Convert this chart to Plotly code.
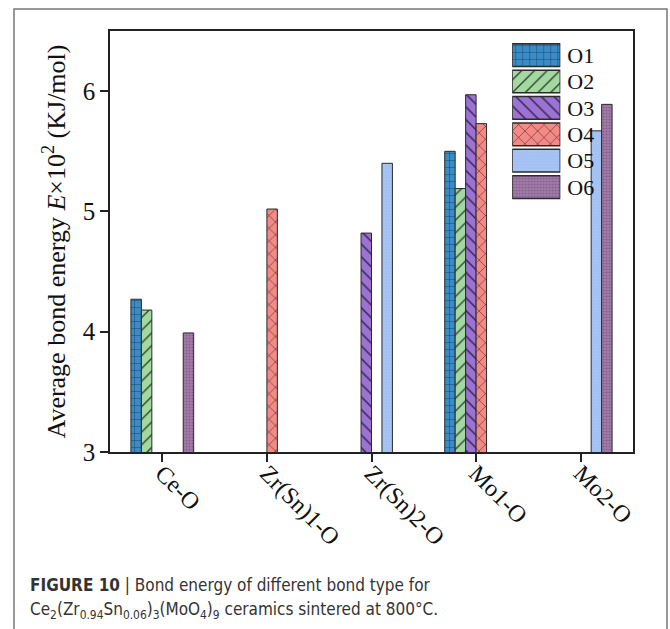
import plotly.graph_objects as go

categories = ["Ce-O", "Zr(Sn)1-O", "Zr(Sn)2-O", "Mo1-O", "Mo2-O"]
series_names = ["O1", "O2", "O3", "O4", "O5", "O6"]
O1 = [4.27, None, None, 5.50, None]
O2 = [4.18, None, None, 5.19, None]
O3 = [None, None, 4.82, 5.97, None]
O4 = [None, 5.02, None, 5.73, None]
O5 = [None, None, 5.40, None, 5.67]
O6 = [3.99, None, None, None, 5.89]
values = [O1, O2, O3, O4, O5, O6]

colors = ["#3a8cc8", "#a3d9a0", "#9c72d2", "#f38a86", "#a3c2f2", "#a07aa6"]
patterns = ["+", "/", "\\", "x", ".", "."]
pat_size = [7, 9, 9, 9, 3, 3]
pat_sol = [0.12, 0.15, 0.15, 0.12, 0.05, 0.25]
pat_fg = ["#1b3550", "#2c3f2a", "#2a1f45", "#4a2424", "#b8d0f5", "#7e5b84"]

serif = "Liberation Serif, Times New Roman, serif"

fig = go.Figure()
for name, vals, c, p, ps, sol, fg in zip(series_names, values, colors, patterns, pat_size, pat_sol, pat_fg):
    fig.add_trace(go.Bar(
        x=categories, y=vals, name=name,
        marker=dict(color=c, line=dict(color="#2a2a2a", width=1),
                    pattern=dict(shape=p, size=ps, solidity=sol, fgcolor=fg, fgopacity=1)),
        showlegend=False, xaxis="x", yaxis="y",
    ))

# legend swatches drawn as horizontal bars on a second axis pair
for name, c, p, ps, sol, fg in zip(series_names, colors, patterns, pat_size, pat_sol, pat_fg):
    fig.add_trace(go.Bar(
        x=[1], y=[name], orientation="h", name=name,
        marker=dict(color=c, line=dict(color="#2a2a2a", width=1.5),
                    pattern=dict(shape=p, size=ps, solidity=sol, fgcolor=fg, fgopacity=1)),
        showlegend=False, xaxis="x2", yaxis="y2", width=0.86,
    ))

fig.update_layout(
    width=670, height=629,
    margin=dict(l=110, r=37, t=31, b=177),
    paper_bgcolor="white", plot_bgcolor="white",
    barmode="group", bargap=0.4, bargroupgap=0,
    font=dict(family=serif, size=25, color="#111"),
    xaxis=dict(
        domain=[0, 1], type="category", showline=True, linecolor="#222", linewidth=1.5,
        mirror=True, ticks="outside", ticklen=8, tickcolor="#222", tickwidth=1.5,
        tickangle=45, tickfont=dict(family=serif, size=24, color="#111"),
        ticklabelstandoff=-12,
        showgrid=False, zeroline=False,
    ),
    yaxis=dict(
        range=[3, 6.5], dtick=1, showline=True, linecolor="#222", linewidth=1.5,
        mirror=True, ticks="outside", ticklen=8, tickcolor="#222", tickwidth=1.5,
        tickfont=dict(family=serif, size=25, color="#111"),
        showgrid=False, zeroline=False,
        title=dict(text="Average bond energy <i>E</i>×10<sup>2</sup> (KJ/mol)",
                   font=dict(family=serif, size=26, color="#111"), standoff=10),
    ),
    xaxis2=dict(domain=[0.769, 0.861], range=[0, 1], anchor="y2", visible=False,
                fixedrange=True),
    yaxis2=dict(domain=[0.598, 0.974], anchor="x2", type="category",
                categoryorder="array", categoryarray=series_names[::-1],
                tickmode="array", tickvals=series_names, ticktext=series_names,
                side="right", showline=False, ticks="", showgrid=False, zeroline=False,
                tickfont=dict(family=serif, size=22, color="#111"), ticklabelstandoff=6),
)

# page frame
fig.add_shape(type="rect", xref="paper", yref="paper",
              x0=(14 - 110) / 523, x1=(667 - 110) / 523,
              y0=(452 - 640) / 421, y1=(452 - 9) / 421,
              line=dict(color="#777", width=1.5), fillcolor="rgba(0,0,0,0)", layer="below")

caption_font = "Liberation Sans Narrow, DejaVu Sans Condensed, Arial Narrow, Liberation Sans, sans-serif"
fig.add_annotation(
    xref="paper", yref="paper", x=(28 - 110) / 523, y=(452 - 585) / 421,
    xanchor="left", yanchor="middle", showarrow=False, align="left",
    text="<b>FIGURE 10</b> | Bond energy of different bond type for",
    font=dict(family=caption_font, size=17, color="#333"),
)
fig.add_annotation(
    xref="paper", yref="paper", x=(28 - 110) / 523, y=(452 - 610) / 421,
    xanchor="left", yanchor="middle", showarrow=False, align="left",
    text="Ce<sub>2</sub>(Zr<sub>0.94</sub>Sn<sub>0.06</sub>)<sub>3</sub>(MoO<sub>4</sub>)<sub>9</sub> ceramics sintered at 800°C.",
    font=dict(family=caption_font, size=17, color="#333"),
)

fig.write_html("out.html")
